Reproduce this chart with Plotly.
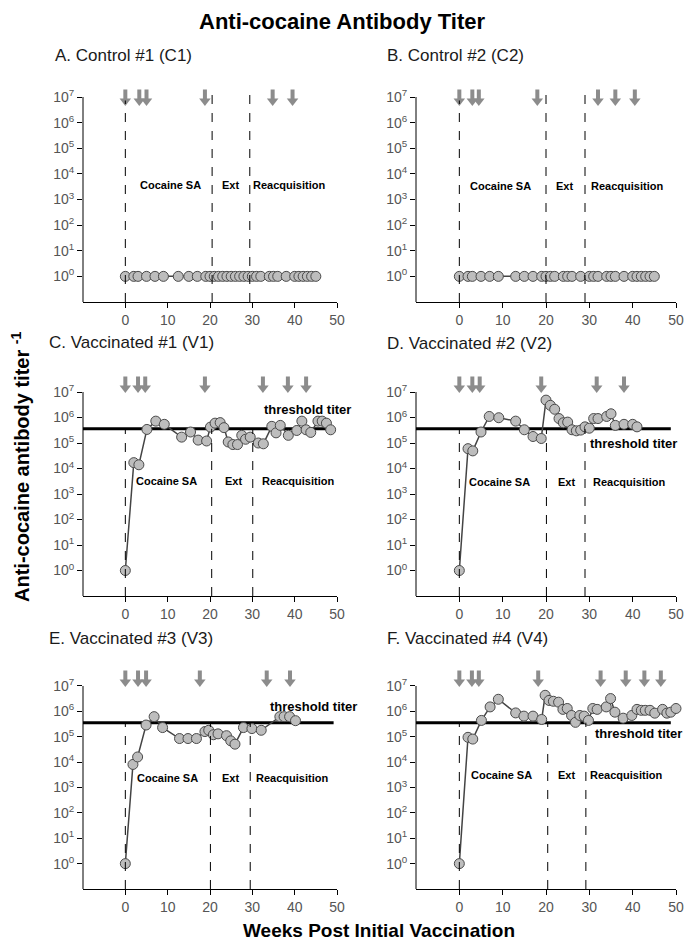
import math
import plotly.graph_objects as go
from plotly.subplots import make_subplots

# ---------------- data ----------------
panel_titles = ["A. Control #1 (C1)", "B. Control #2 (C2)",
                "C. Vaccinated #1 (V1)", "D. Vaccinated #2 (V2)",
                "E. Vaccinated #3 (V3)", "F. Vaccinated #4 (V4)"]

c1_weeks = [0, 2, 3, 5, 7, 9, 12.5, 15, 17, 19, 20, 21, 22, 23, 24, 25, 26, 27, 28, 29,
            30, 31, 32, 34, 35, 36, 38, 40, 41, 42, 43, 44, 45]
c1_titer = [1] * len(c1_weeks)

c2_weeks = [0, 2, 3, 5, 7, 9, 13, 15, 17, 19, 20, 21, 22, 24, 25, 26, 28, 30, 31, 32,
            34, 35, 36, 38, 40, 41, 42, 43, 44, 45]
c2_titer = [1] * len(c2_weeks)

v1_weeks = [0, 2, 3.2, 5.1, 7.2, 9.2, 13.3, 15.4, 17.2, 19.2, 20.1, 21.2, 22.4, 23.3, 24.3,
            25.4, 26.5, 27.5, 28.4, 29.5, 31.4, 32.6, 34.6, 35.6, 36.6, 38.5, 40.5, 41.7,
            42.7, 43.8, 45.5, 46.5, 47.5, 48.5]
v1_titer = [1, 1.7e4, 1.4e4, 3.4e5, 7.2e5, 5.4e5, 1.7e5, 2.7e5, 1.3e5, 1.2e5, 4.2e5, 6.0e5,
            6.3e5, 4.0e5, 1.1e5, 8.7e4, 8.7e4, 2.0e5, 1.4e5, 1.7e5, 1.0e5, 9.3e4, 4.5e5,
            2.5e5, 4.9e5, 2.0e5, 3.1e5, 7.2e5, 3.3e5, 2.6e5, 7.2e5, 7.2e5, 6.0e5, 3.3e5]

v2_weeks = [0, 2, 3.1, 5, 6.9, 9.1, 13, 15, 17, 18.9, 20, 21, 22, 23, 24, 25, 26, 27, 28,
            29, 30, 31, 32, 34, 35, 36, 38, 40, 41]
v2_titer = [1, 6.0e4, 4.9e4, 2.7e5, 1.1e6, 9.8e5, 7.2e5, 3.3e5, 1.8e5, 1.5e5, 4.8e6, 3.0e6,
            2.1e6, 9.1e5, 6.2e5, 6.6e5, 3.3e5, 3.0e5, 3.2e5, 4.3e5, 3.8e5, 9.1e5, 9.1e5,
            1.1e6, 1.4e6, 4.9e5, 5.4e5, 5.4e5, 4.3e5]

v3_weeks = [0, 1.8, 2.9, 4.9, 6.8, 8.8, 12.8, 14.8, 16.8, 18.8, 19.7, 20.8, 21.9, 23.9, 24.9,
            25.9, 27.9, 29.9, 32.1, 36.5, 37.5, 38.8, 40.2]
v3_titer = [1, 8.1e3, 1.6e4, 2.9e5, 6.2e5, 2.3e5, 8.5e4, 8.5e4, 8.5e4, 1.6e5, 1.8e5, 1.2e5,
            1.3e5, 1.1e5, 6.9e4, 5.1e4, 2.3e5, 2.1e5, 1.8e5, 6.2e5, 6.2e5, 6.2e5, 4.3e5]

v4_weeks = [0, 2, 3.1, 5.1, 7.1, 9, 13, 14.9, 17, 19, 19.8, 20.7, 21.7, 22.9, 23.9, 24.9,
            25.9, 26.8, 27.8, 28.8, 29.8, 30.8, 31.8, 33.9, 34.9, 35.9, 37.8, 39.8, 41, 42,
            42.9, 44, 45.1, 46.9, 47.9, 48.8, 50]
v4_titer = [1, 9.5e4, 8.1e4, 4.4e5, 1.5e6, 3.0e6, 8.7e5, 6.5e5, 6.5e5, 4.8e5, 4.3e6, 2.7e6,
            2.5e6, 2.3e6, 1.2e6, 1.3e6, 6.9e5, 3.7e5, 6.9e5, 6.5e5, 4.4e5, 1.3e6, 1.2e6,
            1.5e6, 3.2e6, 9.3e5, 5.4e5, 6.9e5, 1.2e6, 1.1e6, 1.1e6, 1.1e6, 8.5e5, 1.2e6,
            8.5e5, 9.3e5, 1.3e6]

weeks = [c1_weeks, c2_weeks, v1_weeks, v2_weeks, v3_weeks, v4_weeks]
titers = [c1_titer, c2_titer, v1_titer, v2_titer, v3_titer, v4_titer]

# vaccination (boost) arrows, weeks
arrow_weeks = [[0, 3.3, 5, 18.8, 34.8, 39.5],
               [0, 3, 4.5, 18, 32, 36, 40.5],
               [0, 3, 4.7, 18.8, 32.5, 38.4, 42.7],
               [0, 3, 4.7, 18.9, 31.7, 38],
               [0, 3, 4.9, 17.6, 33.4, 38.9],
               [0, 2.9, 4.5, 18.2, 32.6, 38.4, 42.7, 46.5]]

# phase boundaries (weeks): start SA, start Ext, start Reacquisition
phase_weeks = [[0, 20.5, 29.4], [0, 20, 29], [0, 20.4, 30.1],
               [0, 20.1, 29], [0, 20.1, 29.5], [0, 20.4, 29.2]]
phase_labels = ["Cocaine SA", "Ext", "Reacquisition"]
phase_label_weeks = [[3, 22.3, 29.7], [1.9, 21.9, 29.9], [2, 23, 31.8],
                     [1.7, 22.2, 30.3], [2.2, 22.4, 30.5], [2.3, 22.4, 29.8]]
phase_label_titer = [3.7e3, 3.5e3, 3.3e3, 3.0e3, 2.4e3, 3.1e3]

threshold_titer = 3.6e5
threshold_end = [None, None, 49.2, 48.8, 49.2, 48.8]
threshold_label_pos = [None, None, (32.4, 2.1e6), (29.8, 9.3e4), (33.7, 1.6e6), (30.8, 1.3e5)]

ytick_vals = [10 ** k for k in range(0, 8)]
ytick_text = ["10<sup>%d</sup>" % k for k in range(0, 8)]
xtick_vals = [0, 10, 20, 30, 40, 50]

# ---------------- figure ----------------
W, H = 688, 940
FONT = "Liberation Sans, Arial, sans-serif"
ARROW_COLOR = "#8c8c8c"
Y_LO, Y_TOP_TICK, Y_HI = -1.0, 7.0, 7.65   # log10 range; headroom above 10^7 for arrows

fig = make_subplots(rows=3, cols=2)

col_px = [(83, 337), (416, 676)]
row_px = [(97, 302), (392, 596), (686, 889)]   # pixel rows of 10^7 .. x-axis

title_pos = [(53, 55), (385, 55), (47, 342), (385, 343), (47, 638), (385, 638)]

annotations = []
shapes = []

for i in range(6):
    r, c = divmod(i, 2)
    n = i + 1
    xa = "x" if n == 1 else "x%d" % n
    ya = "y" if n == 1 else "y%d" % n
    xl = "xaxis" if n == 1 else "xaxis%d" % n
    yl = "yaxis" if n == 1 else "yaxis%d" % n
    x0, x1 = col_px[c]
    y0, y1 = row_px[r]
    dec_px = (y1 - y0) / (Y_TOP_TICK - Y_LO)
    y_top_px = y0 - (Y_HI - Y_TOP_TICK) * dec_px

    fig.update_layout({
        xl: dict(domain=[x0 / W, x1 / W], range=[-10, 50], tickvals=xtick_vals,
                 ticks="outside", ticklen=5, tickcolor="black", showline=True,
                 linecolor="black", linewidth=1, showgrid=False, zeroline=False,
                 automargin=False,
                 tickfont=dict(family=FONT, size=14, color="#555"), anchor=ya),
        yl: dict(domain=[1 - y1 / H, 1 - y_top_px / H], type="log", range=[Y_LO, Y_HI],
                 tickvals=ytick_vals, ticktext=ytick_text, ticks="outside", ticklen=5,
                 tickcolor="black", showline=False, showgrid=False, zeroline=False,
                 automargin=False,
                 tickfont=dict(family=FONT, size=14, color="#555"), anchor=xa),
    })

    # y-axis line only up to 10^7
    shapes.append(dict(type="line", xref="paper", yref=ya, x0=x0 / W, x1=x0 / W,
                       y0=10 ** Y_LO, y1=10 ** Y_TOP_TICK, layer="above",
                       line=dict(color="black", width=1)))

    is_vacc = threshold_end[i] is not None

    # threshold line
    if is_vacc:
        fig.add_trace(go.Scatter(x=[-10, threshold_end[i]], y=[threshold_titer] * 2,
                                 mode="lines", line=dict(color="black", width=3),
                                 showlegend=False, hoverinfo="skip"), row=r + 1, col=c + 1)
        tx, ty = threshold_label_pos[i]
        annotations.append(dict(x=tx, y=math.log10(ty), xref=xa, yref=ya, text="<b>threshold titer</b>",
                                showarrow=False, xanchor="left", yanchor="middle",
                                font=dict(family=FONT, size=13, color="black")))

    # dashed phase lines (shapes on log axes take data values)
    for pw in phase_weeks[i]:
        top = threshold_titer if is_vacc else 10 ** 7.33
        shapes.append(dict(type="line", xref=xa, yref=ya, x0=pw, x1=pw, y0=10 ** Y_LO, y1=top,
                           line=dict(color="black", width=1, dash="dash")))

    # phase labels
    for lbl, lw in zip(phase_labels, phase_label_weeks[i]):
        annotations.append(dict(x=lw, y=math.log10(phase_label_titer[i]), xref=xa, yref=ya,
                                text="<b>%s</b>" % lbl, showarrow=False, xanchor="left",
                                yanchor="middle", font=dict(family=FONT, size=11, color="black")))

    # data
    fig.add_trace(go.Scatter(x=weeks[i], y=titers[i], mode="lines+markers",
                             line=dict(color="#444", width=1.5),
                             marker=dict(size=10, color="#bdbdbd", line=dict(color="#4a4a4a", width=1)),
                             showlegend=False, cliponaxis=False, hoverinfo="x+y"),
                  row=r + 1, col=c + 1)

    # vaccination arrows: gray shaft (shape) + triangular head (marker)
    tip_log = 6.69 if not is_vacc else 7.0
    top_log = tip_log + 15.5 / dec_px
    head_log = tip_log + 4.0 / dec_px
    for aw in arrow_weeks[i]:
        shapes.append(dict(type="line", xref=xa, yref=ya, x0=aw, x1=aw,
                           y0=10 ** (head_log + 0.02), y1=10 ** top_log, layer="above",
                           line=dict(color=ARROW_COLOR, width=4)))
    fig.add_trace(go.Scatter(x=arrow_weeks[i], y=[10 ** head_log] * len(arrow_weeks[i]),
                             mode="markers", cliponaxis=False, hoverinfo="skip",
                             marker=dict(symbol="triangle-down", size=10, color=ARROW_COLOR,
                                         line=dict(width=0)),
                             showlegend=False), row=r + 1, col=c + 1)

    # panel title
    tx, ty = title_pos[i]
    annotations.append(dict(x=tx / W, y=1 - ty / H, xref="paper", yref="paper",
                            text=panel_titles[i], showarrow=False, xanchor="left", yanchor="middle",
                            font=dict(family=FONT, size=17, color="#1a1a1a")))

annotations.append(dict(x=342 / W, y=1 - 22 / H, xref="paper", yref="paper",
                        text="<b>Anti-cocaine Antibody Titer</b>", showarrow=False,
                        xanchor="center", yanchor="middle",
                        font=dict(family=FONT, size=22, color="black")))
annotations.append(dict(x=379 / W, y=1 - 930 / H, xref="paper", yref="paper",
                        text="<b>Weeks Post Initial Vaccination</b>", showarrow=False,
                        xanchor="center", yanchor="middle",
                        font=dict(family=FONT, size=19, color="black")))
annotations.append(dict(x=20 / W, y=1 - 467 / H, xref="paper", yref="paper",
                        text="<b>Anti-cocaine antibody titer <sup>-1</sup></b>", showarrow=False,
                        xanchor="center", yanchor="middle", textangle=-90,
                        font=dict(family=FONT, size=20, color="black")))

fig.update_layout(template="none", width=W, height=H,
                  margin=dict(l=0, r=0, t=0, b=0, pad=0, autoexpand=False),
                  plot_bgcolor="white", paper_bgcolor="white",
                  annotations=annotations, shapes=shapes, showlegend=False)

fig.write_html("out.html", config={"displayModeBar": False},
               post_script="document.body.style.margin='0';document.body.style.padding='0';")
